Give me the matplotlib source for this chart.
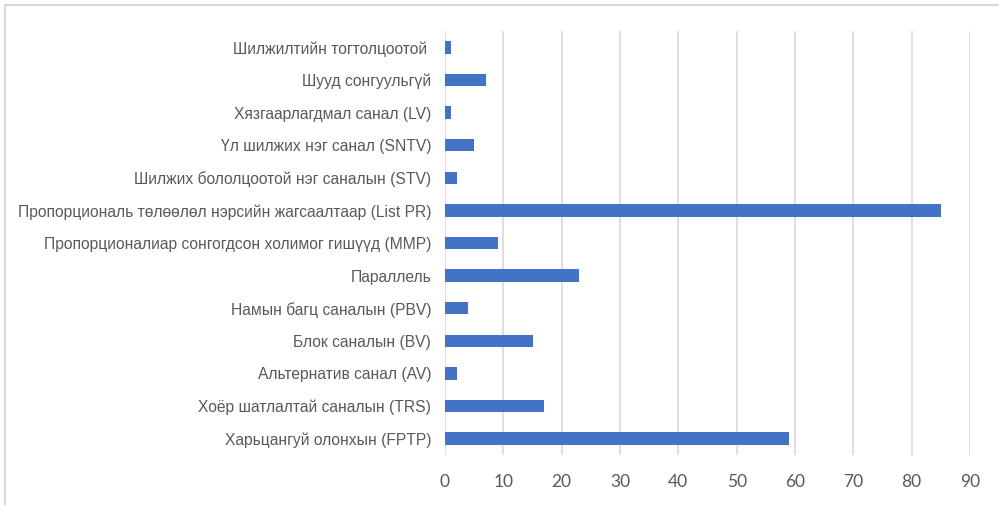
import matplotlib
matplotlib.use("Agg")
import matplotlib.pyplot as plt
from matplotlib.patches import Rectangle

categories = [
    "Шилжилтийн тогтолцоотой ",
    "Шууд сонгуульгүй",
    "Хязгаарлагдмал санал (LV)",
    "Үл шилжих нэг санал (SNTV)",
    "Шилжих бололцоотой нэг саналын (STV)",
    "Пропорциональ төлөөлөл нэрсийн жагсаалтаар (List PR)",
    "Пропорционалиар сонгогдсон холимог гишүүд (MMP)",
    "Параллель",
    "Намын багц саналын (PBV)",
    "Блок саналын (BV)",
    "Альтернатив санал (AV)",
    "Хоёр шатлалтай саналын (TRS)",
    "Харьцангуй олонхын (FPTP)",
]
values = [1, 7, 1, 5, 2, 85, 9, 23, 4, 15, 2, 17, 59]
xticks = [0, 10, 20, 30, 40, 50, 60, 70, 80, 90]

fig = plt.figure(figsize=(9.99, 5.05), dpi=100)
ax = fig.add_axes([445/999, 1-455/505, (970-445)/999, (455-31)/505])

ypos = list(range(len(categories)))
ax.barh(ypos, values, height=0.38, color="#4472C4", zorder=3)
ax.set_ylim(len(categories)-0.5, -0.5)
ax.set_xlim(0, 90)
ax.set_xticks(xticks)
ax.set_xticklabels([str(t) for t in xticks], fontfamily="Lato", fontsize=12.5, color="#595959")
ax.set_yticks(ypos)
ax.set_yticklabels(categories, fontfamily="Liberation Sans", fontsize=11.25, color="#595959")
ax.tick_params(axis="both", length=0)
ax.tick_params(axis="y", pad=10)
ax.tick_params(axis="x", pad=14)
ax.grid(axis="x", color="#D9D9D9", linewidth=1.2, zorder=0)
for s in ax.spines.values():
    s.set_visible(False)

fig.patches.append(Rectangle((5/999, -0.1), 1.1, 1.1 - 4.5/505, transform=fig.transFigure,
                             fill=False, edgecolor="#D9D9D9", linewidth=1.5, figure=fig))

fig.savefig("out.png", dpi=100)
